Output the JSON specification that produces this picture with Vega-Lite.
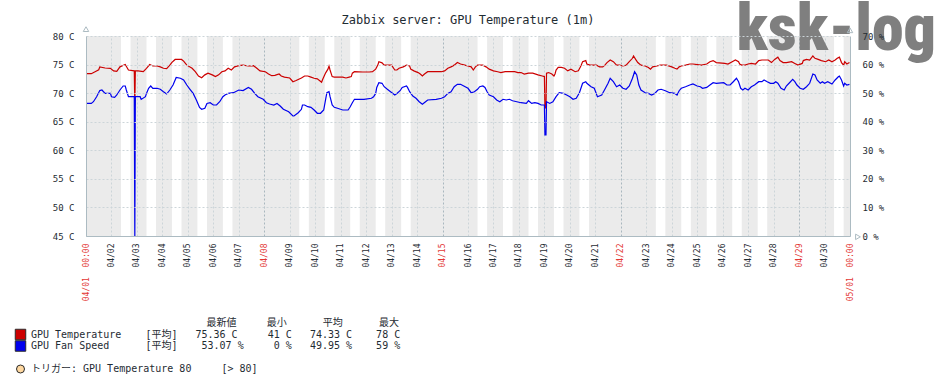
{
  "$schema": "https://vega.github.io/schema/vega-lite/v6.json",
  "width": 764,
  "height": 200,
  "autosize": {"type": "none"},
  "padding": {"left": 86, "top": 36, "right": 86, "bottom": 146},
  "background": "white",
  "config": {
    "font": "DejaVu Sans Mono",
    "view": {"stroke": null, "fill": "#ebebeb"},
    "axis": {"domainColor": "#acbbc2", "gridColor": "#ccd5d9", "gridDash": [2, 2], "labelFont": "DejaVu Sans Mono", "labelColor": "#1f2c33", "ticks": false, "tickSize": 0, "title": null}
  },
  "datasets": {
    "work": [
      {"start": "2018-04-02T09:00", "end": "2018-04-02T18:00"},
      {"start": "2018-04-03T09:00", "end": "2018-04-03T18:00"},
      {"start": "2018-04-04T09:00", "end": "2018-04-04T18:00"},
      {"start": "2018-04-05T09:00", "end": "2018-04-05T18:00"},
      {"start": "2018-04-06T09:00", "end": "2018-04-06T18:00"},
      {"start": "2018-04-09T09:00", "end": "2018-04-09T18:00"},
      {"start": "2018-04-10T09:00", "end": "2018-04-10T18:00"},
      {"start": "2018-04-11T09:00", "end": "2018-04-11T18:00"},
      {"start": "2018-04-12T09:00", "end": "2018-04-12T18:00"},
      {"start": "2018-04-13T09:00", "end": "2018-04-13T18:00"},
      {"start": "2018-04-16T09:00", "end": "2018-04-16T18:00"},
      {"start": "2018-04-17T09:00", "end": "2018-04-17T18:00"},
      {"start": "2018-04-18T09:00", "end": "2018-04-18T18:00"},
      {"start": "2018-04-19T09:00", "end": "2018-04-19T18:00"},
      {"start": "2018-04-20T09:00", "end": "2018-04-20T18:00"},
      {"start": "2018-04-23T09:00", "end": "2018-04-23T18:00"},
      {"start": "2018-04-24T09:00", "end": "2018-04-24T18:00"},
      {"start": "2018-04-25T09:00", "end": "2018-04-25T18:00"},
      {"start": "2018-04-26T09:00", "end": "2018-04-26T18:00"},
      {"start": "2018-04-27T09:00", "end": "2018-04-27T18:00"},
      {"start": "2018-04-30T09:00", "end": "2018-04-30T18:00"}
    ],
    "temp": [
      {"t": "2018-04-01T00:00", "v": 73.4}, {"t": "2018-04-01T05:00", "v": 73.4}, {"t": "2018-04-01T09:00", "v": 73.8}, {"t": "2018-04-01T12:00", "v": 74.1}, {"t": "2018-04-01T13:00", "v": 74.6}, {"t": "2018-04-01T18:00", "v": 74.4}, {"t": "2018-04-01T23:00", "v": 74.35},
      {"t": "2018-04-02T02:00", "v": 73.9}, {"t": "2018-04-02T05:00", "v": 73.8}, {"t": "2018-04-02T08:00", "v": 74.6}, {"t": "2018-04-02T13:00", "v": 75.0}, {"t": "2018-04-02T16:00", "v": 74.05}, {"t": "2018-04-02T21:30", "v": 73.9}, {"t": "2018-04-02T22:00", "v": 67.9}, {"t": "2018-04-02T22:30", "v": 73.9},
      {"t": "2018-04-03T01:00", "v": 73.9}, {"t": "2018-04-03T06:00", "v": 73.75}, {"t": "2018-04-03T09:00", "v": 74.35}, {"t": "2018-04-03T12:00", "v": 75.0}, {"t": "2018-04-03T15:00", "v": 74.75}, {"t": "2018-04-03T19:00", "v": 74.75}, {"t": "2018-04-03T22:00", "v": 74.6},
      {"t": "2018-04-04T01:00", "v": 74.35}, {"t": "2018-04-04T04:00", "v": 74.3}, {"t": "2018-04-04T07:00", "v": 74.9}, {"t": "2018-04-04T09:00", "v": 75.4}, {"t": "2018-04-04T12:00", "v": 75.9}, {"t": "2018-04-04T18:00", "v": 75.9}, {"t": "2018-04-04T20:00", "v": 75.6}, {"t": "2018-04-04T23:00", "v": 74.9},
      {"t": "2018-04-05T04:00", "v": 74.35}, {"t": "2018-04-05T07:00", "v": 73.75}, {"t": "2018-04-05T10:00", "v": 73.0}, {"t": "2018-04-05T13:00", "v": 72.7}, {"t": "2018-04-05T16:00", "v": 73.2}, {"t": "2018-04-05T19:00", "v": 73.5}, {"t": "2018-04-05T23:00", "v": 73.2},
      {"t": "2018-04-06T02:00", "v": 72.9}, {"t": "2018-04-06T05:00", "v": 73.2}, {"t": "2018-04-06T08:00", "v": 73.75}, {"t": "2018-04-06T11:00", "v": 73.9}, {"t": "2018-04-06T14:00", "v": 74.35}, {"t": "2018-04-06T17:00", "v": 74.05}, {"t": "2018-04-06T20:00", "v": 74.6},
      {"t": "2018-04-07T00:00", "v": 74.8}, {"t": "2018-04-07T04:00", "v": 74.9}, {"t": "2018-04-07T09:00", "v": 74.75}, {"t": "2018-04-07T14:00", "v": 74.8}, {"t": "2018-04-07T17:00", "v": 74.35}, {"t": "2018-04-07T20:00", "v": 73.9},
      {"t": "2018-04-08T01:00", "v": 73.75}, {"t": "2018-04-08T04:00", "v": 73.35}, {"t": "2018-04-08T07:00", "v": 73.05}, {"t": "2018-04-08T10:00", "v": 73.1}, {"t": "2018-04-08T14:00", "v": 73.35}, {"t": "2018-04-08T16:00", "v": 73.0}, {"t": "2018-04-08T19:00", "v": 72.8},
      {"t": "2018-04-09T00:00", "v": 72.65}, {"t": "2018-04-09T03:00", "v": 72.0}, {"t": "2018-04-09T06:00", "v": 72.2}, {"t": "2018-04-09T11:00", "v": 72.65}, {"t": "2018-04-09T14:00", "v": 73.0}, {"t": "2018-04-09T17:00", "v": 73.0}, {"t": "2018-04-09T20:00", "v": 72.8}, {"t": "2018-04-09T23:00", "v": 72.6},
      {"t": "2018-04-10T02:00", "v": 72.5}, {"t": "2018-04-10T06:00", "v": 71.9}, {"t": "2018-04-10T07:00", "v": 72.4}, {"t": "2018-04-10T09:00", "v": 73.2}, {"t": "2018-04-10T10:00", "v": 73.6}, {"t": "2018-04-10T12:00", "v": 74.2}, {"t": "2018-04-10T13:00", "v": 74.75}, {"t": "2018-04-10T14:00", "v": 74.05}, {"t": "2018-04-10T16:00", "v": 72.9}, {"t": "2018-04-10T18:00", "v": 72.8},
      {"t": "2018-04-11T02:00", "v": 72.8}, {"t": "2018-04-11T05:00", "v": 72.65}, {"t": "2018-04-11T08:00", "v": 72.8}, {"t": "2018-04-11T10:00", "v": 72.9}, {"t": "2018-04-11T11:00", "v": 73.5}, {"t": "2018-04-11T13:00", "v": 73.75}, {"t": "2018-04-11T21:00", "v": 73.7},
      {"t": "2018-04-12T03:00", "v": 73.7}, {"t": "2018-04-12T06:00", "v": 73.75}, {"t": "2018-04-12T09:00", "v": 74.2}, {"t": "2018-04-12T11:00", "v": 74.9}, {"t": "2018-04-12T12:00", "v": 75.5}, {"t": "2018-04-12T15:00", "v": 75.3}, {"t": "2018-04-12T17:00", "v": 74.9}, {"t": "2018-04-12T20:00", "v": 74.9},
      {"t": "2018-04-13T00:00", "v": 74.9}, {"t": "2018-04-13T03:00", "v": 74.05}, {"t": "2018-04-13T05:00", "v": 74.05}, {"t": "2018-04-13T07:00", "v": 74.35}, {"t": "2018-04-13T11:00", "v": 74.6}, {"t": "2018-04-13T14:00", "v": 74.9}, {"t": "2018-04-13T17:00", "v": 74.75}, {"t": "2018-04-13T18:00", "v": 74.2}, {"t": "2018-04-13T21:00", "v": 73.9},
      {"t": "2018-04-14T01:00", "v": 73.6}, {"t": "2018-04-14T03:00", "v": 73.35}, {"t": "2018-04-14T05:00", "v": 73.0}, {"t": "2018-04-14T07:00", "v": 73.35}, {"t": "2018-04-14T10:00", "v": 73.75}, {"t": "2018-04-14T23:00", "v": 73.75},
      {"t": "2018-04-15T02:00", "v": 73.9}, {"t": "2018-04-15T05:00", "v": 74.35}, {"t": "2018-04-15T08:00", "v": 74.6}, {"t": "2018-04-15T11:00", "v": 74.9}, {"t": "2018-04-15T14:00", "v": 75.35}, {"t": "2018-04-15T17:00", "v": 75.1}, {"t": "2018-04-15T21:00", "v": 74.9},
      {"t": "2018-04-16T00:00", "v": 74.75}, {"t": "2018-04-16T03:00", "v": 74.6}, {"t": "2018-04-16T05:00", "v": 74.05}, {"t": "2018-04-16T07:00", "v": 74.6}, {"t": "2018-04-16T09:00", "v": 74.9}, {"t": "2018-04-16T14:00", "v": 74.9}, {"t": "2018-04-16T17:00", "v": 74.6}, {"t": "2018-04-16T20:00", "v": 74.2},
      {"t": "2018-04-17T00:00", "v": 73.9}, {"t": "2018-04-17T04:00", "v": 73.75}, {"t": "2018-04-17T07:00", "v": 73.6}, {"t": "2018-04-17T11:00", "v": 73.75}, {"t": "2018-04-17T20:00", "v": 73.75}, {"t": "2018-04-17T23:00", "v": 73.6},
      {"t": "2018-04-18T02:00", "v": 73.6}, {"t": "2018-04-18T05:00", "v": 73.35}, {"t": "2018-04-18T09:00", "v": 73.5}, {"t": "2018-04-18T13:00", "v": 73.5}, {"t": "2018-04-18T18:00", "v": 73.2}, {"t": "2018-04-18T22:00", "v": 73.0},
      {"t": "2018-04-19T00:00", "v": 72.9}, {"t": "2018-04-19T00:30", "v": 67.4}, {"t": "2018-04-19T01:30", "v": 67.4}, {"t": "2018-04-19T02:00", "v": 73.5}, {"t": "2018-04-19T04:00", "v": 73.6}, {"t": "2018-04-19T07:00", "v": 73.35}, {"t": "2018-04-19T09:00", "v": 73.0}, {"t": "2018-04-19T10:00", "v": 73.35}, {"t": "2018-04-19T11:00", "v": 74.05}, {"t": "2018-04-19T13:00", "v": 74.5}, {"t": "2018-04-19T16:00", "v": 74.5}, {"t": "2018-04-19T19:00", "v": 74.35}, {"t": "2018-04-19T22:00", "v": 73.9},
      {"t": "2018-04-20T01:00", "v": 74.2}, {"t": "2018-04-20T05:00", "v": 73.75}, {"t": "2018-04-20T08:00", "v": 73.9}, {"t": "2018-04-20T10:00", "v": 74.6}, {"t": "2018-04-20T12:00", "v": 75.5}, {"t": "2018-04-20T15:00", "v": 75.7}, {"t": "2018-04-20T16:00", "v": 75.1}, {"t": "2018-04-20T19:00", "v": 74.9},
      {"t": "2018-04-21T01:00", "v": 74.9}, {"t": "2018-04-21T04:00", "v": 74.6}, {"t": "2018-04-21T07:00", "v": 74.6}, {"t": "2018-04-21T09:00", "v": 74.9}, {"t": "2018-04-21T11:00", "v": 75.35}, {"t": "2018-04-21T14:00", "v": 75.8}, {"t": "2018-04-21T17:00", "v": 75.5}, {"t": "2018-04-21T20:00", "v": 74.9}, {"t": "2018-04-21T23:00", "v": 74.9},
      {"t": "2018-04-22T02:00", "v": 74.75}, {"t": "2018-04-22T05:00", "v": 74.9}, {"t": "2018-04-22T08:00", "v": 75.5}, {"t": "2018-04-22T11:00", "v": 76.1}, {"t": "2018-04-22T12:00", "v": 76.5}, {"t": "2018-04-22T14:00", "v": 75.9}, {"t": "2018-04-22T16:00", "v": 75.35}, {"t": "2018-04-22T19:00", "v": 74.9}, {"t": "2018-04-22T23:00", "v": 74.75},
      {"t": "2018-04-23T02:00", "v": 74.5}, {"t": "2018-04-23T04:00", "v": 74.2}, {"t": "2018-04-23T06:00", "v": 74.6}, {"t": "2018-04-23T10:00", "v": 74.75}, {"t": "2018-04-23T13:00", "v": 74.9}, {"t": "2018-04-23T19:00", "v": 74.9},
      {"t": "2018-04-24T00:00", "v": 74.6}, {"t": "2018-04-24T03:00", "v": 74.35}, {"t": "2018-04-24T05:00", "v": 74.2}, {"t": "2018-04-24T07:00", "v": 74.6}, {"t": "2018-04-24T09:00", "v": 74.75}, {"t": "2018-04-24T13:00", "v": 74.9}, {"t": "2018-04-24T17:00", "v": 75.1}, {"t": "2018-04-24T20:00", "v": 75.1},
      {"t": "2018-04-25T00:00", "v": 75.0}, {"t": "2018-04-25T04:00", "v": 74.9}, {"t": "2018-04-25T09:00", "v": 75.1}, {"t": "2018-04-25T12:00", "v": 75.5}, {"t": "2018-04-25T15:00", "v": 75.7}, {"t": "2018-04-25T18:00", "v": 75.35},
      {"t": "2018-04-26T02:00", "v": 75.2}, {"t": "2018-04-26T05:00", "v": 75.1}, {"t": "2018-04-26T09:00", "v": 75.5}, {"t": "2018-04-26T12:00", "v": 75.8}, {"t": "2018-04-26T15:00", "v": 75.5}, {"t": "2018-04-26T16:00", "v": 75.1}, {"t": "2018-04-26T18:00", "v": 74.9}, {"t": "2018-04-26T21:00", "v": 74.9},
      {"t": "2018-04-27T00:00", "v": 75.1}, {"t": "2018-04-27T03:00", "v": 75.2}, {"t": "2018-04-27T07:00", "v": 75.1}, {"t": "2018-04-27T10:00", "v": 75.7}, {"t": "2018-04-27T13:00", "v": 75.8}, {"t": "2018-04-27T19:00", "v": 75.8}, {"t": "2018-04-27T22:00", "v": 75.35},
      {"t": "2018-04-28T01:00", "v": 75.9}, {"t": "2018-04-28T04:00", "v": 76.3}, {"t": "2018-04-28T06:00", "v": 75.7}, {"t": "2018-04-28T09:00", "v": 75.35}, {"t": "2018-04-28T12:00", "v": 75.35}, {"t": "2018-04-28T17:00", "v": 75.5}, {"t": "2018-04-28T20:00", "v": 75.2}, {"t": "2018-04-28T23:00", "v": 74.9},
      {"t": "2018-04-29T03:00", "v": 75.2}, {"t": "2018-04-29T04:00", "v": 75.7}, {"t": "2018-04-29T07:00", "v": 75.9}, {"t": "2018-04-29T10:00", "v": 75.8}, {"t": "2018-04-29T13:00", "v": 76.5}, {"t": "2018-04-29T15:00", "v": 76.1}, {"t": "2018-04-29T18:00", "v": 75.9}, {"t": "2018-04-29T21:00", "v": 75.7},
      {"t": "2018-04-30T01:00", "v": 75.5}, {"t": "2018-04-30T04:00", "v": 75.8}, {"t": "2018-04-30T07:00", "v": 75.5}, {"t": "2018-04-30T10:00", "v": 75.8}, {"t": "2018-04-30T12:00", "v": 76.1}, {"t": "2018-04-30T14:00", "v": 76.3}, {"t": "2018-04-30T16:00", "v": 75.35}, {"t": "2018-04-30T18:00", "v": 74.9}, {"t": "2018-04-30T19:00", "v": 75.5}, {"t": "2018-04-30T21:00", "v": 75.1}, {"t": "2018-04-30T23:30", "v": 75.36}
    ],
    "fan": [
      {"t": "2018-04-01T00:00", "v": 46.4}, {"t": "2018-04-01T05:00", "v": 46.4}, {"t": "2018-04-01T07:00", "v": 47.0}, {"t": "2018-04-01T10:00", "v": 48.75}, {"t": "2018-04-01T13:00", "v": 50.9}, {"t": "2018-04-01T15:00", "v": 51.1}, {"t": "2018-04-01T18:00", "v": 49.9}, {"t": "2018-04-01T23:00", "v": 49.9},
      {"t": "2018-04-02T00:00", "v": 48.75}, {"t": "2018-04-02T03:00", "v": 48.5}, {"t": "2018-04-02T05:00", "v": 49.35}, {"t": "2018-04-02T08:00", "v": 51.1}, {"t": "2018-04-02T11:00", "v": 52.5}, {"t": "2018-04-02T13:00", "v": 52.5}, {"t": "2018-04-02T14:00", "v": 51.1}, {"t": "2018-04-02T16:00", "v": 48.75}, {"t": "2018-04-02T19:00", "v": 48.75}, {"t": "2018-04-02T21:30", "v": 48.75}, {"t": "2018-04-02T22:00", "v": 0}, {"t": "2018-04-02T22:30", "v": 48.75},
      {"t": "2018-04-03T00:00", "v": 48.75}, {"t": "2018-04-03T03:00", "v": 48.75}, {"t": "2018-04-03T04:00", "v": 47.8}, {"t": "2018-04-03T08:00", "v": 48.75}, {"t": "2018-04-03T09:00", "v": 49.9}, {"t": "2018-04-03T11:00", "v": 51.7}, {"t": "2018-04-03T13:00", "v": 52.5}, {"t": "2018-04-03T15:00", "v": 51.7}, {"t": "2018-04-03T19:00", "v": 51.7}, {"t": "2018-04-03T22:00", "v": 51.35},
      {"t": "2018-04-04T01:00", "v": 50.5}, {"t": "2018-04-04T04:00", "v": 49.7}, {"t": "2018-04-04T07:00", "v": 51.1}, {"t": "2018-04-04T10:00", "v": 52.85}, {"t": "2018-04-04T12:00", "v": 54.6}, {"t": "2018-04-04T13:00", "v": 55.5}, {"t": "2018-04-04T17:00", "v": 55.2}, {"t": "2018-04-04T20:00", "v": 54.6}, {"t": "2018-04-04T23:00", "v": 52.85},
      {"t": "2018-04-05T02:00", "v": 51.35}, {"t": "2018-04-05T05:00", "v": 49.9}, {"t": "2018-04-05T08:00", "v": 47.6}, {"t": "2018-04-05T11:00", "v": 45.0}, {"t": "2018-04-05T13:00", "v": 44.35}, {"t": "2018-04-05T16:00", "v": 44.7}, {"t": "2018-04-05T18:00", "v": 46.4}, {"t": "2018-04-05T21:00", "v": 46.65},
      {"t": "2018-04-06T00:00", "v": 45.85}, {"t": "2018-04-06T03:00", "v": 45.85}, {"t": "2018-04-06T06:00", "v": 47.0}, {"t": "2018-04-06T09:00", "v": 48.75}, {"t": "2018-04-06T11:00", "v": 49.35}, {"t": "2018-04-06T14:00", "v": 49.9}, {"t": "2018-04-06T19:00", "v": 50.15},
      {"t": "2018-04-07T00:00", "v": 51.1}, {"t": "2018-04-07T04:00", "v": 50.9}, {"t": "2018-04-07T09:00", "v": 52.0}, {"t": "2018-04-07T12:00", "v": 51.35}, {"t": "2018-04-07T15:00", "v": 49.9}, {"t": "2018-04-07T18:00", "v": 48.75}, {"t": "2018-04-07T23:00", "v": 47.85},
      {"t": "2018-04-08T02:00", "v": 46.65}, {"t": "2018-04-08T05:00", "v": 46.2}, {"t": "2018-04-08T09:00", "v": 45.85}, {"t": "2018-04-08T12:00", "v": 46.4}, {"t": "2018-04-08T15:00", "v": 45.5}, {"t": "2018-04-08T18:00", "v": 44.35}, {"t": "2018-04-08T23:00", "v": 43.5},
      {"t": "2018-04-09T03:00", "v": 42.0}, {"t": "2018-04-09T04:00", "v": 42.0}, {"t": "2018-04-09T08:00", "v": 43.15}, {"t": "2018-04-09T11:00", "v": 44.35}, {"t": "2018-04-09T12:00", "v": 45.85}, {"t": "2018-04-09T14:00", "v": 45.85}, {"t": "2018-04-09T17:00", "v": 45.25}, {"t": "2018-04-09T20:00", "v": 45.05}, {"t": "2018-04-09T23:00", "v": 44.1},
      {"t": "2018-04-10T02:00", "v": 42.95}, {"t": "2018-04-10T05:00", "v": 42.95}, {"t": "2018-04-10T08:00", "v": 44.1}, {"t": "2018-04-10T10:00", "v": 48.2}, {"t": "2018-04-10T11:00", "v": 50.15}, {"t": "2018-04-10T13:00", "v": 50.5}, {"t": "2018-04-10T14:00", "v": 48.75}, {"t": "2018-04-10T16:00", "v": 45.85}, {"t": "2018-04-10T18:00", "v": 45.05}, {"t": "2018-04-10T21:00", "v": 44.7},
      {"t": "2018-04-11T02:00", "v": 44.1}, {"t": "2018-04-11T07:00", "v": 44.1}, {"t": "2018-04-11T09:00", "v": 45.25}, {"t": "2018-04-11T11:00", "v": 46.65}, {"t": "2018-04-11T13:00", "v": 47.85}, {"t": "2018-04-11T22:00", "v": 47.85},
      {"t": "2018-04-12T05:00", "v": 48.2}, {"t": "2018-04-12T07:00", "v": 48.75}, {"t": "2018-04-12T09:00", "v": 49.9}, {"t": "2018-04-12T10:00", "v": 52.0}, {"t": "2018-04-12T12:00", "v": 53.65}, {"t": "2018-04-12T15:00", "v": 53.45}, {"t": "2018-04-12T17:00", "v": 52.25}, {"t": "2018-04-12T20:00", "v": 51.35}, {"t": "2018-04-12T23:00", "v": 50.5},
      {"t": "2018-04-13T03:00", "v": 49.35}, {"t": "2018-04-13T05:00", "v": 49.9}, {"t": "2018-04-13T08:00", "v": 50.85}, {"t": "2018-04-13T10:00", "v": 52.0}, {"t": "2018-04-13T14:00", "v": 52.5}, {"t": "2018-04-13T15:00", "v": 52.0}, {"t": "2018-04-13T17:00", "v": 50.5}, {"t": "2018-04-13T20:00", "v": 49.0}, {"t": "2018-04-13T23:00", "v": 48.2},
      {"t": "2018-04-14T02:00", "v": 47.0}, {"t": "2018-04-14T05:00", "v": 46.1}, {"t": "2018-04-14T08:00", "v": 47.0}, {"t": "2018-04-14T10:00", "v": 47.6}, {"t": "2018-04-14T18:00", "v": 47.85}, {"t": "2018-04-14T23:00", "v": 48.2},
      {"t": "2018-04-15T02:00", "v": 48.75}, {"t": "2018-04-15T05:00", "v": 49.9}, {"t": "2018-04-15T08:00", "v": 50.5}, {"t": "2018-04-15T11:00", "v": 52.25}, {"t": "2018-04-15T14:00", "v": 53.1}, {"t": "2018-04-15T17:00", "v": 53.1}, {"t": "2018-04-15T20:00", "v": 52.5},
      {"t": "2018-04-16T00:00", "v": 51.7}, {"t": "2018-04-16T03:00", "v": 50.15}, {"t": "2018-04-16T06:00", "v": 50.5}, {"t": "2018-04-16T09:00", "v": 51.35}, {"t": "2018-04-16T11:00", "v": 52.25}, {"t": "2018-04-16T14:00", "v": 52.5}, {"t": "2018-04-16T16:00", "v": 52.0}, {"t": "2018-04-16T18:00", "v": 50.5}, {"t": "2018-04-16T20:00", "v": 49.35},
      {"t": "2018-04-17T00:00", "v": 48.75}, {"t": "2018-04-17T03:00", "v": 47.6}, {"t": "2018-04-17T06:00", "v": 47.0}, {"t": "2018-04-17T09:00", "v": 47.85}, {"t": "2018-04-17T12:00", "v": 47.6}, {"t": "2018-04-17T15:00", "v": 47.85}, {"t": "2018-04-17T18:00", "v": 47.35}, {"t": "2018-04-17T22:00", "v": 47.0},
      {"t": "2018-04-18T02:00", "v": 46.65}, {"t": "2018-04-18T07:00", "v": 46.4}, {"t": "2018-04-18T09:00", "v": 47.35}, {"t": "2018-04-18T12:00", "v": 46.4}, {"t": "2018-04-18T15:00", "v": 46.65}, {"t": "2018-04-18T18:00", "v": 46.4}, {"t": "2018-04-18T21:00", "v": 45.85},
      {"t": "2018-04-19T00:00", "v": 45.85}, {"t": "2018-04-19T00:30", "v": 35.35}, {"t": "2018-04-19T01:30", "v": 35.35}, {"t": "2018-04-19T02:00", "v": 47.0}, {"t": "2018-04-19T05:00", "v": 46.4}, {"t": "2018-04-19T08:00", "v": 47.0}, {"t": "2018-04-19T11:00", "v": 48.75}, {"t": "2018-04-19T14:00", "v": 50.15}, {"t": "2018-04-19T18:00", "v": 49.9}, {"t": "2018-04-19T21:00", "v": 49.35},
      {"t": "2018-04-20T00:00", "v": 48.75}, {"t": "2018-04-20T03:00", "v": 47.85}, {"t": "2018-04-20T06:00", "v": 48.2}, {"t": "2018-04-20T09:00", "v": 50.15}, {"t": "2018-04-20T12:00", "v": 53.45}, {"t": "2018-04-20T15:00", "v": 54.0}, {"t": "2018-04-20T16:00", "v": 53.45}, {"t": "2018-04-20T20:00", "v": 52.25}, {"t": "2018-04-20T23:00", "v": 51.7},
      {"t": "2018-04-21T02:00", "v": 48.75}, {"t": "2018-04-21T06:00", "v": 49.35}, {"t": "2018-04-21T09:00", "v": 51.35}, {"t": "2018-04-21T12:00", "v": 53.45}, {"t": "2018-04-21T14:00", "v": 55.2}, {"t": "2018-04-21T17:00", "v": 54.0}, {"t": "2018-04-21T20:00", "v": 52.25}, {"t": "2018-04-21T23:00", "v": 52.85},
      {"t": "2018-04-22T02:00", "v": 51.7}, {"t": "2018-04-22T05:00", "v": 51.35}, {"t": "2018-04-22T08:00", "v": 52.5}, {"t": "2018-04-22T11:00", "v": 55.2}, {"t": "2018-04-22T13:00", "v": 57.5}, {"t": "2018-04-22T15:00", "v": 56.35}, {"t": "2018-04-22T17:00", "v": 52.85}, {"t": "2018-04-22T19:00", "v": 51.1}, {"t": "2018-04-22T23:00", "v": 50.15},
      {"t": "2018-04-23T02:00", "v": 49.9}, {"t": "2018-04-23T05:00", "v": 49.35}, {"t": "2018-04-23T08:00", "v": 49.9}, {"t": "2018-04-23T11:00", "v": 51.1}, {"t": "2018-04-23T14:00", "v": 51.35}, {"t": "2018-04-23T18:00", "v": 50.85}, {"t": "2018-04-23T22:00", "v": 50.15},
      {"t": "2018-04-24T03:00", "v": 49.9}, {"t": "2018-04-24T05:00", "v": 49.35}, {"t": "2018-04-24T07:00", "v": 50.85}, {"t": "2018-04-24T09:00", "v": 51.7}, {"t": "2018-04-24T13:00", "v": 52.25}, {"t": "2018-04-24T17:00", "v": 52.85}, {"t": "2018-04-24T20:00", "v": 53.2},
      {"t": "2018-04-25T00:00", "v": 52.5}, {"t": "2018-04-25T03:00", "v": 52.25}, {"t": "2018-04-25T05:00", "v": 51.7}, {"t": "2018-04-25T09:00", "v": 52.0}, {"t": "2018-04-25T12:00", "v": 52.85}, {"t": "2018-04-25T15:00", "v": 53.65}, {"t": "2018-04-25T18:00", "v": 53.45},
      {"t": "2018-04-26T01:00", "v": 53.65}, {"t": "2018-04-26T04:00", "v": 52.85}, {"t": "2018-04-26T07:00", "v": 52.85}, {"t": "2018-04-26T10:00", "v": 54.0}, {"t": "2018-04-26T13:00", "v": 55.2}, {"t": "2018-04-26T15:00", "v": 54.0}, {"t": "2018-04-26T17:00", "v": 51.7}, {"t": "2018-04-26T19:00", "v": 51.1}, {"t": "2018-04-26T21:00", "v": 51.7},
      {"t": "2018-04-27T00:00", "v": 51.1}, {"t": "2018-04-27T03:00", "v": 52.25}, {"t": "2018-04-27T06:00", "v": 52.85}, {"t": "2018-04-27T10:00", "v": 54.0}, {"t": "2018-04-27T13:00", "v": 54.0}, {"t": "2018-04-27T15:00", "v": 54.6}, {"t": "2018-04-27T18:00", "v": 54.0}, {"t": "2018-04-27T21:00", "v": 53.45},
      {"t": "2018-04-28T00:00", "v": 53.45}, {"t": "2018-04-28T02:00", "v": 54.0}, {"t": "2018-04-28T04:00", "v": 53.45}, {"t": "2018-04-28T07:00", "v": 51.7}, {"t": "2018-04-28T10:00", "v": 51.1}, {"t": "2018-04-28T12:00", "v": 52.5}, {"t": "2018-04-28T15:00", "v": 53.65}, {"t": "2018-04-28T18:00", "v": 54.85}, {"t": "2018-04-28T20:00", "v": 54.0}, {"t": "2018-04-28T22:00", "v": 52.85},
      {"t": "2018-04-29T01:00", "v": 51.7}, {"t": "2018-04-29T04:00", "v": 51.35}, {"t": "2018-04-29T07:00", "v": 52.25}, {"t": "2018-04-29T10:00", "v": 53.45}, {"t": "2018-04-29T13:00", "v": 56.7}, {"t": "2018-04-29T15:00", "v": 56.35}, {"t": "2018-04-29T17:00", "v": 54.6}, {"t": "2018-04-29T20:00", "v": 53.45}, {"t": "2018-04-29T22:00", "v": 54.0},
      {"t": "2018-04-30T00:00", "v": 53.45}, {"t": "2018-04-30T03:00", "v": 54.0}, {"t": "2018-04-30T07:00", "v": 53.2}, {"t": "2018-04-30T10:00", "v": 54.6}, {"t": "2018-04-30T13:00", "v": 55.75}, {"t": "2018-04-30T14:00", "v": 56.0}, {"t": "2018-04-30T16:00", "v": 54.6}, {"t": "2018-04-30T18:00", "v": 52.5}, {"t": "2018-04-30T19:00", "v": 53.45}, {"t": "2018-04-30T21:00", "v": 52.85}, {"t": "2018-04-30T23:30", "v": 53.07}
    ],
    "legend": [
      {"row": "head", "part": "label", "label": "\u2800\u00a0\u00a0\u00a0\u00a0\u00a0\u00a0\u00a0\u00a0\u00a0\u00a0\u00a0\u00a0\u00a0\u00a0\u00a0\u00a0\u00a0\u00a0\u00a0\u00a0\u00a0\u00a0\u00a0\u00a0\u00a0\u00a0\u00a0\u00a0最新値\u00a0\u00a0\u00a0\u00a0\u00a0最小\u00a0\u00a0\u00a0\u00a0\u00a0\u00a0平均\u00a0\u00a0\u00a0\u00a0\u00a0\u00a0最大"},
      {"row": "temp", "part": "label", "label": "GPU\u00a0Temperature\u00a0\u00a0\u00a0\u00a0[平均]\u00a0\u00a0\u00a075.36\u00a0C\u00a0\u00a0\u00a0\u00a0\u00a041\u00a0C\u00a0\u00a0\u00a074.33\u00a0C\u00a0\u00a0\u00a0\u00a078\u00a0C"},
      {"row": "fan", "part": "label", "label": "GPU\u00a0Fan\u00a0Speed\u00a0\u00a0\u00a0\u00a0\u00a0\u00a0[平均]\u00a0\u00a0\u00a0\u00a053.07\u00a0%\u00a0\u00a0\u00a0\u00a0\u00a00\u00a0%\u00a0\u00a0\u00a049.95\u00a0%\u00a0\u00a0\u00a0\u00a059\u00a0%"},
      {"row": "trig", "part": "label", "label": "トリガー:\u00a0GPU\u00a0Temperature\u00a080\u00a0\u00a0\u00a0\u00a0\u00a0[>\u00a080]"}
    ],
    "keys": [
      {"row": "temp", "part": "key", "item": "GPU Temperature"},
      {"row": "fan", "part": "key", "item": "GPU Fan Speed"}
    ],
    "trigger": [
      {"row": "trig", "part": "key", "item": "GPU Temperature 80"}
    ],
    "captions": [
      {"caption": "Zabbix server: GPU Temperature (1m)", "watermark": "ksk-log"}
    ]
  },
  "layer": [
    {
      "layer": [
        {
          "data": {"name": "work"},
          "mark": {"type": "rect", "fill": "white"},
          "encoding": {
            "x": {
              "field": "start", "type": "temporal",
              "scale": {"domain": [{"year": 2018, "month": 4, "date": 1}, {"year": 2018, "month": 5, "date": 1}]},
              "axis": {
                "orient": "top",
                "tickCount": {"interval": "day", "step": 1},
                "labels": false,
                "domain": false,
                "ticks": false,
                "grid": true,
                "gridColor": {"condition": {"test": "day(datum.value) == 0", "value": "#a9b7be"}, "value": "#ccd5d9"},
                "zindex": 0
              }
            },
            "x2": {"field": "end"}
          }
        },
        {
          "data": {"name": "temp"},
          "mark": {"type": "line", "color": "#cc0000", "strokeWidth": 1.2},
          "encoding": {
            "x": {"field": "t", "type": "temporal"},
            "y": {
              "field": "v", "type": "quantitative",
              "scale": {"domain": [45, 80], "nice": false, "zero": false},
              "axis": {"orient": "left", "values": [45, 50, 55, 60, 65, 70, 75, 80], "labelExpr": "datum.value + '\u00a0C'", "labelFontSize": 9, "labelPadding": 12, "labelOverlap": false, "grid": true, "zindex": 1}
            }
          }
        }
      ]
    },
    {
      "data": {"name": "fan"},
      "mark": {"type": "line", "color": "#0000ee", "strokeWidth": 1.2},
      "encoding": {
        "x": {
          "field": "t", "type": "temporal",
          "scale": {"domain": [{"year": 2018, "month": 4, "date": 1}, {"year": 2018, "month": 5, "date": 1}]},
          "axis": {
            "orient": "bottom",
            "tickCount": {"interval": "day", "step": 1},
            "labelExpr": "date(datum.value) == 1 ? timeFormat(datum.value, '%m/%d\u00a0\u00a0%H:%M') : timeFormat(datum.value, '%m/%d')",
            "labelAngle": 270,
            "labelFontSize": 8,
            "labelPadding": 7,
            "labelOverlap": false,
            "labelFlush": false,
            "labelBound": false,
            "labelColor": {"condition": {"test": "day(datum.value) == 0 || month(datum.value) == 4", "value": "#e33734"}, "value": "#1f2c33"},
            "grid": false,
            "zindex": 1
          }
        },
        "y": {
          "field": "v", "type": "quantitative",
          "scale": {"domain": [0, 70], "nice": false},
          "axis": {"orient": "right", "values": [0, 10, 20, 30, 40, 50, 60, 70], "labelExpr": "datum.value + '\u00a0%'", "labelFontSize": 9, "labelPadding": 12, "labelOverlap": false, "grid": false, "zindex": 1}
        }
      }
    },
    {
      "layer": [
        {
          "data": {"name": "legend"},
          "mark": {"type": "text", "align": "left", "baseline": "middle", "font": "DejaVu Sans Mono, Noto Sans CJK JP", "fontSize": 10, "color": "#1f2c33"},
          "encoding": {
            "x": {"field": "part", "type": "nominal", "scale": {"type": "point", "domain": ["key", "label"], "range": [-65.5, -55], "padding": 0}, "axis": null},
            "y": {"field": "row", "type": "nominal", "scale": {"type": "point", "domain": ["head", "temp", "fan", "gap", "trig"], "range": [287, 333], "padding": 0}, "axis": null},
            "text": {"field": "label"}
          }
        },
        {
          "data": {"name": "keys"},
          "mark": {"type": "point", "shape": "square", "filled": true, "size": 110, "stroke": "#2b2b2b", "strokeWidth": 1, "opacity": 1},
          "encoding": {
            "x": {"field": "part", "type": "nominal"},
            "y": {"field": "row", "type": "nominal"},
            "fill": {"field": "item", "type": "nominal", "scale": {"domain": ["GPU Temperature", "GPU Fan Speed"], "range": ["#cc0000", "#0000ee"]}, "legend": null}
          }
        },
        {
          "data": {"name": "trigger"},
          "mark": {"type": "point", "shape": "circle", "filled": true, "size": 64, "fill": "#ffd8a0", "stroke": "#2b2b2b", "strokeWidth": 1, "opacity": 1},
          "encoding": {
            "x": {"field": "part", "type": "nominal"},
            "y": {"field": "row", "type": "nominal"}
          }
        }
      ]
    },
    {
      "layer": [
        {
          "data": {"name": "captions"},
          "mark": {"type": "text", "align": "right", "baseline": "alphabetic", "font": "Roboto Condensed, Roboto, sans-serif", "fontWeight": 900, "fontSize": 64, "color": "#7f7f7f"},
          "encoding": {
            "x": {"datum": {"year": 2018, "month": 5, "date": 4, "hours": 9}, "type": "temporal", "scale": {"domain": [{"year": 2018, "month": 4, "date": 1}, {"year": 2018, "month": 5, "date": 1}]}, "axis": null},
            "y": {"datum": 77.55, "type": "quantitative", "scale": {"domain": [45, 80], "nice": false, "zero": false}, "axis": null},
            "text": {"field": "watermark"}
          }
        },
        {
          "data": {"name": "captions"},
          "mark": {"type": "text", "align": "center", "baseline": "alphabetic", "font": "DejaVu Sans Mono", "fontSize": 12, "color": "#1f2c33"},
          "encoding": {
            "x": {"datum": {"year": 2018, "month": 4, "date": 16}, "type": "temporal"},
            "y": {"datum": 82.1, "type": "quantitative"},
            "text": {"field": "caption"}
          }
        },
        {
          "data": {"values": [{"end": "top"}]},
          "mark": {"type": "point", "shape": "triangle-up", "filled": false, "stroke": "#acbbc2", "strokeWidth": 1, "size": 30, "opacity": 1},
          "encoding": {
            "x": {"datum": {"year": 2018, "month": 4, "date": 1}, "type": "temporal"},
            "y": {"datum": 81.2, "type": "quantitative"}
          }
        },
        {
          "data": {"values": [{"end": "top"}]},
          "mark": {"type": "point", "shape": "triangle-up", "filled": false, "stroke": "#acbbc2", "strokeWidth": 1, "size": 30, "opacity": 1},
          "encoding": {
            "x": {"datum": {"year": 2018, "month": 5, "date": 1}, "type": "temporal"},
            "y": {"datum": 81.0, "type": "quantitative"}
          }
        },
        {
          "data": {"values": [{"end": "right"}]},
          "mark": {"type": "point", "shape": "triangle-right", "filled": false, "stroke": "#acbbc2", "strokeWidth": 1, "size": 30, "opacity": 1},
          "encoding": {
            "x": {"datum": {"year": 2018, "month": 5, "date": 1, "hours": 7, "minutes": 30}, "type": "temporal"},
            "y": {"datum": 44.85, "type": "quantitative"}
          }
        }
      ]
    }
  ],
  "resolve": {"scale": {"x": "independent", "y": "independent"}}
}
